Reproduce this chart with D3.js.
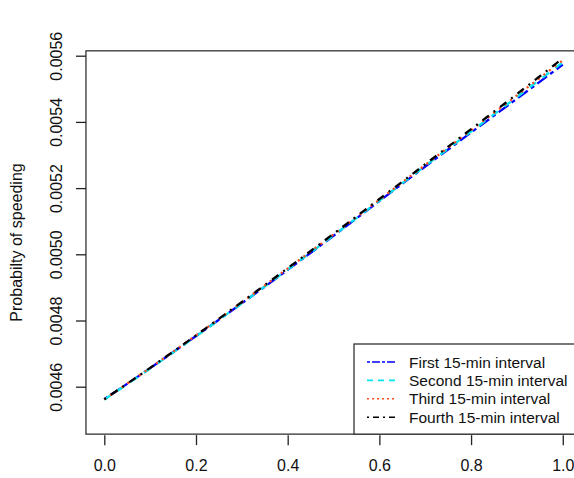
<!DOCTYPE html>
<html>
<head>
<meta charset="utf-8">
<script src="https://cdn.jsdelivr.net/npm/d3@7"></script>
<style>
  html, body { margin: 0; padding: 0; background: #fff; }
  svg { display: block; font-family: "Liberation Sans", Arial, sans-serif; }
</style>
</head>
<body>
<svg id="chart" width="574" height="478"></svg>
<script>
// ---- data ----
const xValues = [0, 0.1, 0.2, 0.3, 0.4, 0.5, 0.6, 0.7, 0.8, 0.9, 1.0];
const firstInterval  = [0.004562, 0.004656, 0.004753, 0.004852, 0.004953, 0.005056, 0.005161, 0.005265, 0.005368, 0.005470, 0.005573];
const secondInterval = [0.004561, 0.004655, 0.004752, 0.004852, 0.004954, 0.005057, 0.005162, 0.005267, 0.005371, 0.005475, 0.005580];
const thirdInterval  = [0.004562, 0.004657, 0.004755, 0.004855, 0.004957, 0.005060, 0.005165, 0.005270, 0.005375, 0.005480, 0.005586];
const fourthInterval = [0.004562, 0.004657, 0.004755, 0.004856, 0.004958, 0.005062, 0.005167, 0.005272, 0.005378, 0.005484, 0.005592];
const seriesNames = ["First 15-min interval", "Second 15-min interval", "Third 15-min interval", "Fourth 15-min interval"];
const xTicks = [0, 0.2, 0.4, 0.6, 0.8, 1.0];
const yTicks = [0.0046, 0.0048, 0.0050, 0.0052, 0.0054, 0.0056];
const yTitle = "Probabilty of speeding";

const seriesValues = [firstInterval, secondInterval, thirdInterval, fourthInterval];
const seriesColors = ["#0000ff", "#00e5ee", "#ff4a1c", "#000000"];
const dashPlot   = ["4,4,12,4", "8,8", "2,5", "2,6,8,6"];
const dashLegend = ["3,2,8,2", "6,5", "2,3", "2,4,6,4"];

const svg = d3.select("#chart");

// R-style 4% expanded domains
const x = d3.scaleLinear().domain([-0.04, 1.04]).range([85.96, 581.1]);
const y = d3.scaleLinear().domain([0.0046, 0.0056]).range([386.7, 55.7]);
const yBottom = 0.0044567, yTop = 0.0056147;

const boxLeft = x(-0.04), boxRight = x(1.04), boxTop = y(yTop), boxBottom = y(yBottom);

// lines
const line = d3.line()
  .x((d, i) => x(xValues[i]))
  .y(d => y(d))
  .curve(d3.curveMonotoneX);

svg.append("defs").append("clipPath").attr("id", "plotclip")
  .append("rect").attr("x", boxLeft).attr("y", boxTop)
  .attr("width", boxRight - boxLeft).attr("height", boxBottom - boxTop);

const gLines = svg.append("g").attr("clip-path", "url(#plotclip)");
seriesValues.forEach((vals, k) => {
  gLines.append("path")
    .attr("d", line(vals))
    .attr("fill", "none")
    .attr("stroke", seriesColors[k])
    .attr("stroke-width", 2.3)
    .attr("stroke-dasharray", dashPlot[k]);
});

// plot box
svg.append("rect")
  .attr("x", boxLeft).attr("y", boxTop)
  .attr("width", boxRight - boxLeft).attr("height", boxBottom - boxTop)
  .attr("fill", "none").attr("stroke", "#333").attr("stroke-width", 1.3);

// x axis
const xAxis = svg.append("g").attr("transform", `translate(0,${boxBottom + 1})`)
  .call(d3.axisBottom(x).tickValues(xTicks).tickFormat(d3.format(".1f")).tickSize(10).tickPadding(15));
xAxis.select(".domain").remove();
xAxis.selectAll("line").attr("stroke", "#222").attr("stroke-width", 1.3);
xAxis.selectAll("text").attr("font-size", 16).attr("fill", "#111")
  .attr("font-family", "'Liberation Sans', Arial, sans-serif");

// y axis
const yAxis = svg.append("g").attr("transform", `translate(${boxLeft},0)`)
  .call(d3.axisLeft(y).tickValues(yTicks).tickFormat(d3.format(".4f")).tickSize(10).tickPadding(0));
yAxis.select(".domain").remove();
yAxis.selectAll("line").attr("stroke", "#222").attr("stroke-width", 1.3);
yAxis.selectAll("text")
  .attr("font-size", 16).attr("fill", "#111")
  .attr("font-family", "'Liberation Sans', Arial, sans-serif")
  .attr("text-anchor", "middle")
  .attr("dy", null)
  .attr("x", null)
  .attr("transform", `translate(${62 - boxLeft},0) rotate(-90)`);

// y title
svg.append("text")
  .attr("transform", `translate(22,${(boxTop + boxBottom) / 2}) rotate(-90)`)
  .attr("text-anchor", "middle")
  .attr("font-size", 16).attr("fill", "#111")
  .text(yTitle);

// legend
const legLeft = 354, legTop = 344;
svg.append("rect")
  .attr("x", legLeft).attr("y", legTop)
  .attr("width", 300).attr("height", boxBottom - legTop)
  .attr("fill", "#fff").attr("stroke", "#333").attr("stroke-width", 1.3);
seriesNames.forEach((name, k) => {
  const cy = 362 + k * 18.4;
  svg.append("line")
    .attr("x1", 367).attr("x2", 396).attr("y1", cy).attr("y2", cy)
    .attr("stroke", seriesColors[k]).attr("stroke-width", 1.6)
    .attr("stroke-dasharray", dashLegend[k]);
  svg.append("text")
    .attr("x", 409).attr("y", cy + 5.5)
    .attr("font-size", 15.5).attr("fill", "#111")
    .text(name);
});
</script>
</body>
</html>
